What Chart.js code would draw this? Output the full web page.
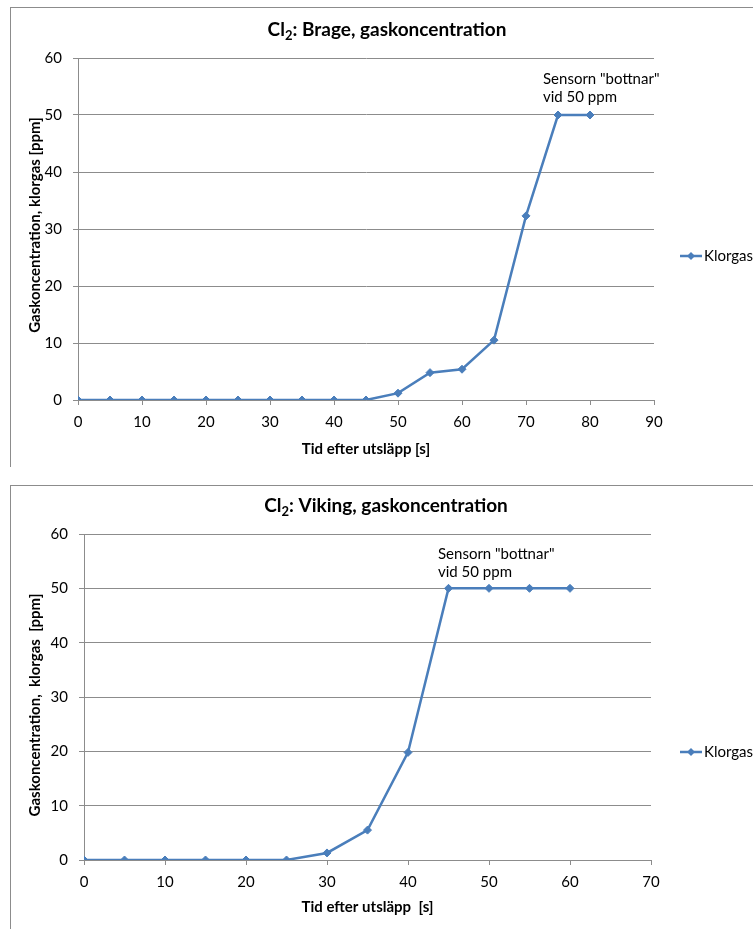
<!DOCTYPE html>
<html>
<head>
<meta charset="utf-8">
<script src="https://cdn.jsdelivr.net/npm/chart.js@4.4.0/dist/chart.umd.min.js"></script>
<style>
  body { margin: 0; background: #fff; overflow: hidden; }
  .panel { position: absolute; left: 10px; width: 760px; border-top: 1px solid #8c8c8c; border-left: 1px solid #8c8c8c; overflow: hidden; }
  #p1 { top: 7px; height: 459px; }
  #p2 { top: 485px; height: 444px; }
  canvas { display: block; }
</style>
</head>
<body>
<div class="panel" id="p1"><canvas id="brageChart" width="742" height="459"></canvas></div>
<div class="panel" id="p2"><canvas id="vikingChart" width="742" height="443"></canvas></div>
<script>
// Brage
const brageTime = [0, 5, 10, 15, 20, 25, 30, 35, 40, 45, 50, 55, 60, 65, 70, 75, 80]
const brageKlorgas = [0, 0, 0, 0, 0, 0, 0, 0, 0, 0, 1.2, 4.8, 5.4, 10.5, 32.3, 50, 50]
const brageXTicks = [0, 10, 20, 30, 40, 50, 60, 70, 80, 90]

// Viking
const vikingTime = [0, 5, 10, 15, 20, 25, 30, 35, 40, 45, 50, 55, 60]
const vikingKlorgas = [0, 0, 0, 0, 0, 0, 1.3, 5.5, 19.8, 50, 50, 50, 50]
const vikingXTicks = [0, 10, 20, 30, 40, 50, 60, 70]

const yTicks = [0, 10, 20, 30, 40, 50, 60]
const seriesName = 'Klorgas'
const blue = '#4A7EBB'
const gray = '#8c8c8c'
const fontFamily = 'Lato, "Open Sans", sans-serif'

const extraText = {
  id: 'extraText',
  afterDraw(chart, args, opts) {
    const ctx = chart.ctx
    ctx.save()
    ctx.fillStyle = '#000'
    ctx.textBaseline = 'middle'

    // title with subscript 2
    const t = opts.title
    const big = 'bold 19px ' + fontFamily
    const small = 'bold 13px ' + fontFamily
    ctx.font = big
    const w1 = ctx.measureText('Cl').width
    const w3 = ctx.measureText(t.rest).width
    ctx.font = small
    const w2 = ctx.measureText('2').width
    let x = t.x - (w1 + w2 + w3) / 2
    ctx.textAlign = 'left'
    ctx.font = big
    ctx.fillText('Cl', x, t.y)
    ctx.font = small
    ctx.fillText('2', x + w1, t.y + 6)
    ctx.font = big
    ctx.fillText(t.rest, x + w1 + w2, t.y)

    // axis titles
    ctx.font = 'bold 15px ' + fontFamily
    ctx.textAlign = 'center'
    const area = chart.chartArea
    ctx.fillText(opts.xTitle.text, (area.left + area.right) / 2, opts.xTitle.y)
    ctx.save()
    ctx.translate(opts.yTitle.x, opts.yTitle.y)
    ctx.rotate(-Math.PI / 2)
    ctx.fillText(opts.yTitle.text, 0, 0)
    ctx.restore()

    // note
    ctx.font = '15px ' + fontFamily
    ctx.textAlign = 'left'
    opts.note.lines.forEach((line, i) => {
      ctx.fillText(line, opts.note.x, opts.note.y + i * 18)
    })

    // legend
    const lg = opts.legend
    ctx.strokeStyle = blue
    ctx.lineWidth = 2.5
    ctx.beginPath()
    ctx.moveTo(lg.x, lg.y)
    ctx.lineTo(lg.x + 22, lg.y)
    ctx.stroke()
    ctx.fillStyle = blue
    ctx.beginPath()
    ctx.moveTo(lg.x + 11, lg.y - 4)
    ctx.lineTo(lg.x + 15, lg.y)
    ctx.lineTo(lg.x + 11, lg.y + 4)
    ctx.lineTo(lg.x + 7, lg.y)
    ctx.closePath()
    ctx.fill()
    ctx.fillStyle = '#000'
    ctx.fillText(seriesName, lg.x + 24, lg.y)
    ctx.restore()
  }
}

const makeChart = (id, time, values, xTicks, box, text) => {
  const canvas = document.getElementById(id)
  const config = {
    type: 'line',
    data: {
      datasets: [{
        label: seriesName,
        data: time.map((t, i) => ({ x: t, y: values[i] })),
        borderColor: blue,
        backgroundColor: blue,
        borderWidth: 2.5,
        pointStyle: 'rectRot',
        pointRadius: 4,
        pointBorderWidth: 1,
        tension: 0
      }]
    },
    options: {
      responsive: false,
      animation: false,
      layout: {
        padding: { left: 0, top: box.top, right: canvas.width - box.right, bottom: 0 }
      },
      plugins: {
        legend: { display: false },
        tooltip: { enabled: false },
        extraText: text
      },
      scales: {
        x: {
          type: 'linear',
          min: xTicks[0],
          max: xTicks[xTicks.length - 1],
          afterBuildTicks: (scale) => { scale.ticks = xTicks.map(v => ({ value: v })) },
          afterFit: (scale) => { scale.height = canvas.height - box.bottom },
          grid: { drawOnChartArea: false, drawTicks: true, tickLength: 5, tickColor: gray },
          border: { color: gray, width: 1 },
          ticks: { color: '#000', padding: 8, font: { family: fontFamily, size: 15 } }
        },
        y: {
          min: 0,
          max: 60,
          afterBuildTicks: (scale) => { scale.ticks = yTicks.map(v => ({ value: v })) },
          afterFit: (scale) => { scale.width = box.left },
          grid: { color: gray, drawTicks: true, tickLength: 5, tickColor: gray },
          border: { color: gray, width: 1 },
          ticks: { color: '#000', padding: 11, font: { family: fontFamily, size: 15 } }
        }
      }
    },
    plugins: [extraText]
  }
  return new Chart(canvas, config)
}

makeChart('brageChart', brageTime, brageKlorgas, brageXTicks,
  { left: 67, right: 643, top: 50, bottom: 392 },
  {
    title: { rest: ': Brage, gaskoncentration', x: 376, y: 22 },
    xTitle: { text: 'Tid efter utsläpp [s]', y: 441 },
    yTitle: { text: 'Gaskoncentration, klorgas [ppm]', x: 24, y: 217 },
    note: { lines: ['Sensorn "bottnar"', 'vid 50 ppm'], x: 532, y: 71 },
    legend: { x: 669, y: 248 }
  })

makeChart('vikingChart', vikingTime, vikingKlorgas, vikingXTicks,
  { left: 73, right: 640, top: 48, bottom: 374 },
  {
    title: { rest: ': Viking, gaskoncentration', x: 375, y: 20 },
    xTitle: { text: 'Tid efter utsläpp  [s]', y: 421 },
    yTitle: { text: 'Gaskoncentration,  klorgas  [ppm]', x: 24, y: 219 },
    note: { lines: ['Sensorn "bottnar"', 'vid 50 ppm'], x: 427, y: 68 },
    legend: { x: 669, y: 266 }
  })
</script>
</body>
</html>
